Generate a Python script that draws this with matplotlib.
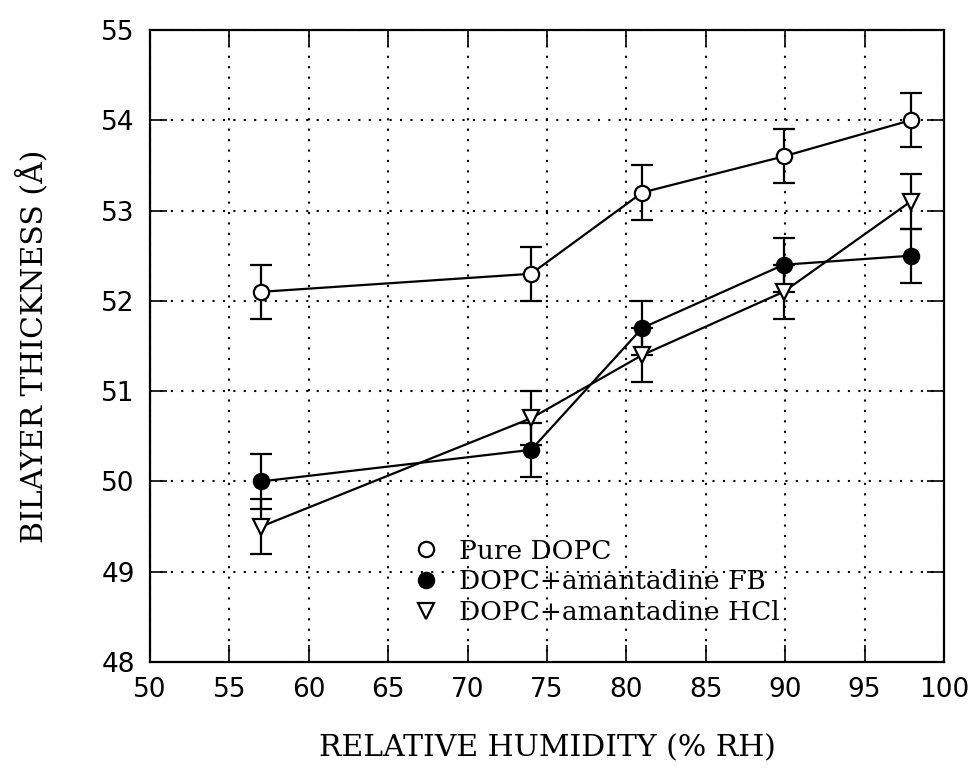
import matplotlib
matplotlib.use("Agg")
import matplotlib.pyplot as plt
from matplotlib.lines import Line2D

# Data
humidity = [57.0, 74.0, 81.0, 89.9, 97.9]
pure_dopc = [52.1, 52.3, 53.2, 53.6, 54.0]
pure_err = [0.3, 0.3, 0.3, 0.3, 0.3]
dopc_fb = [50.0, 50.35, 51.7, 52.4, 52.5]
fb_err = [0.3, 0.3, 0.3, 0.3, 0.3]
dopc_hcl = [49.5, 50.7, 51.4, 52.1, 53.1]
hcl_err = [0.3, 0.3, 0.3, 0.3, 0.3]
labels = ["Pure DOPC", "DOPC+amantadine FB", "DOPC+amantadine HCl"]
xticks = list(range(50, 101, 5))
yticks = list(range(48, 56))

fig = plt.figure(figsize=(9.76, 7.84), dpi=100)
ax = fig.add_axes([150/976, 1-662/784, 794/976, 632/784])

serif = "DejaVu Serif"

series = [
    (pure_dopc, pure_err, "o", "white", 11),
    (dopc_fb, fb_err, "o", "black", 11),
    (dopc_hcl, hcl_err, "v", "white", 12),
]
for vals, err, mk, fc, ms in series:
    ax.errorbar(humidity, vals, yerr=err, fmt="none", ecolor="black",
                elinewidth=1.6, capsize=8, capthick=1.6, zorder=3)
    ax.plot(humidity, vals, color="black", lw=1.6, zorder=4)
    ax.plot(humidity, vals, linestyle="none", marker=mk, markersize=ms,
            markerfacecolor=fc, markeredgecolor="black", markeredgewidth=1.6,
            zorder=5)

ax.set_xlim(50, 100)
ax.set_ylim(48, 55)
ax.set_xticks(xticks)
ax.set_yticks(yticks)
ax.grid(True, color="black", linestyle=(0, (1, 4)), linewidth=1.5)
ax.tick_params(direction="in", length=12, width=1.2, top=True, right=True,
               labelsize=19, pad=11)
for s in ax.spines.values():
    s.set_linewidth(1.6)

ax.set_xlabel("RELATIVE HUMIDITY (% RH)", fontfamily=serif, fontsize=21.5, labelpad=22)
ax.set_ylabel("BILAYER THICKNESS (Å)", fontfamily=serif, fontsize=21.5, labelpad=38)

handles = [
    Line2D([], [], linestyle="none", marker="o", markersize=11,
           markerfacecolor="white", markeredgecolor="black", markeredgewidth=1.6),
    Line2D([], [], linestyle="none", marker="o", markersize=11,
           markerfacecolor="black", markeredgecolor="black", markeredgewidth=1.6),
    Line2D([], [], linestyle="none", marker="v", markersize=12,
           markerfacecolor="white", markeredgecolor="black", markeredgewidth=1.6),
]
leg = ax.legend(handles, labels, loc="upper left",
                bbox_to_anchor=(0.315, 0.216), frameon=False,
                prop={"family": serif, "size": 19}, handlelength=1.0,
                handletextpad=0.75, labelspacing=0.22, borderpad=0)

fig.savefig("out.png", dpi=100)
